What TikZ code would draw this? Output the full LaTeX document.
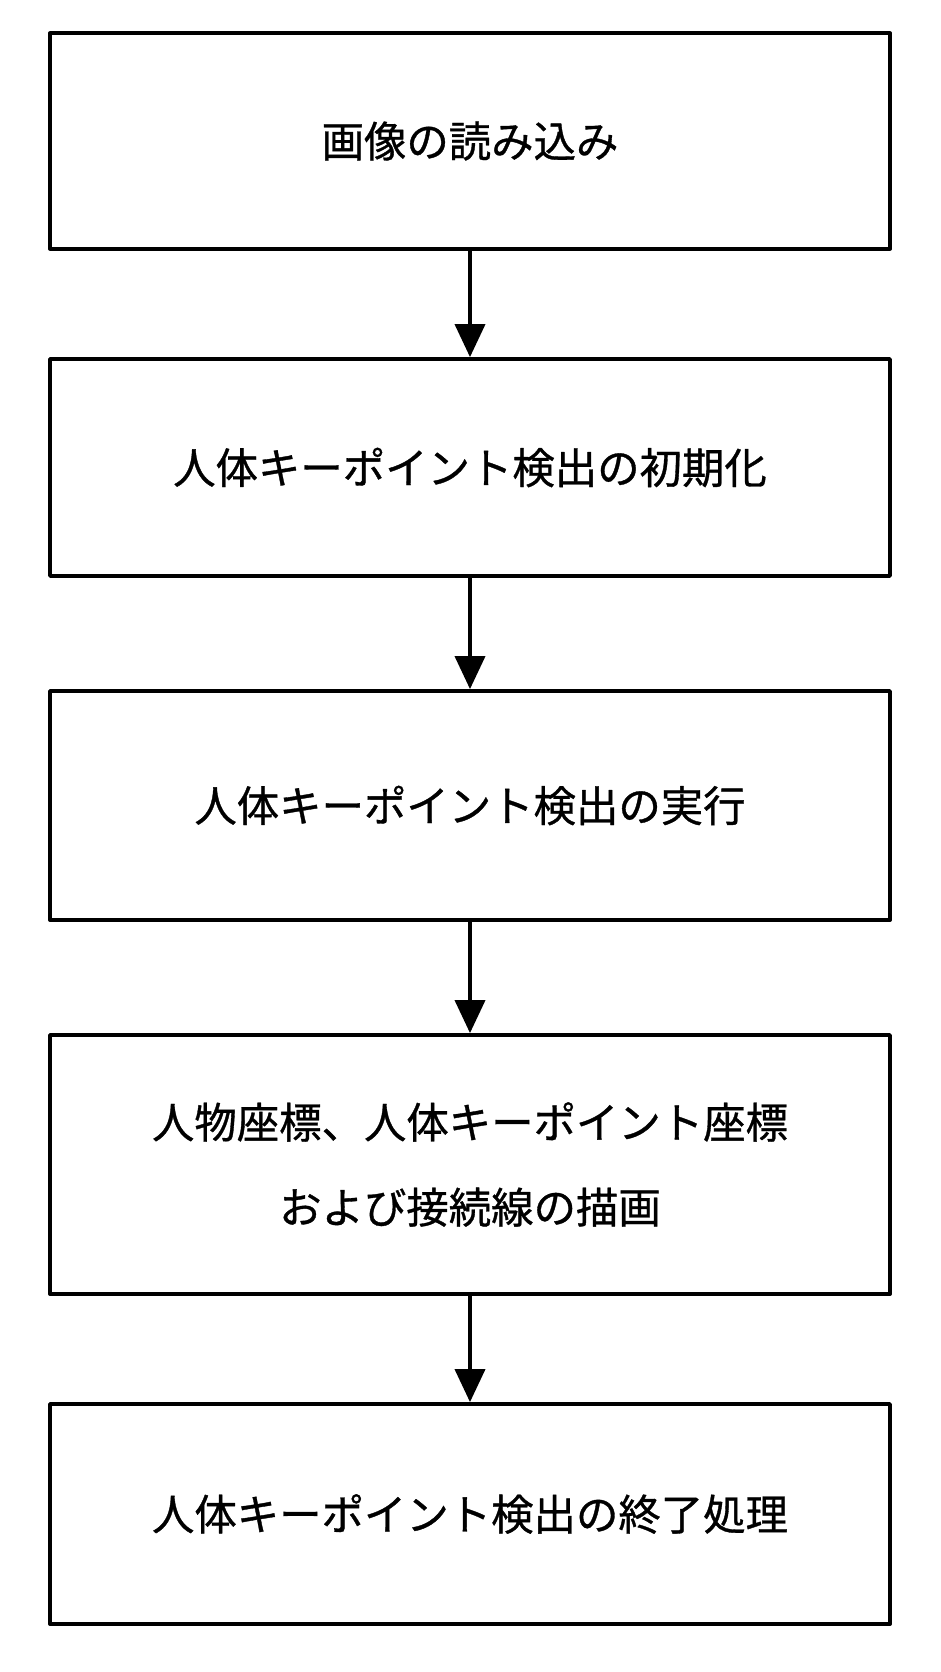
\documentclass[tikz,border=0pt]{standalone}
\usepackage{fontspec}
\setmainfont{Noto Sans CJK JP}[FakeBold=0.8]
\usetikzlibrary{arrows.meta}
\tikzset{
  stepbox/.style={draw=black, line width=1.9pt, line join=round, rectangle, minimum width=420pt, align=center, font=\fontsize{21.2pt}{42.5pt}\selectfont, inner sep=0pt},
  flowarrow/.style={draw=black, line width=1.9pt, -{Triangle[width=15pt,length=16.5pt]}}
}
\begin{document}
\begin{tikzpicture}[x=0.5pt,y=-0.5pt]
\fill[white] (0,0) rectangle (941,1672);
\useasboundingbox (0,0) rectangle (941,1672);
\node[stepbox, minimum height=107.75pt] (b1) at (470,141) {画像の読み込み};
\node[stepbox, minimum height=108.5pt] (b2) at (470,467.5) {人体キーポイント検出の初期化};
\node[stepbox, minimum height=114.5pt] (b3) at (470,805.5) {人体キーポイント検出の実行};
\node[stepbox, minimum height=129.5pt] (b4) at (470,1164.5) {人物座標、人体キーポイント座標\\および接続線の描画};
\node[stepbox, minimum height=110pt] (b5) at (470,1514) {人体キーポイント検出の終了処理};
\draw[flowarrow] (b1.south) -- (b2.north);
\draw[flowarrow] (b2.south) -- (b3.north);
\draw[flowarrow] (b3.south) -- (b4.north);
\draw[flowarrow] (b4.south) -- (b5.north);
\end{tikzpicture}
\end{document}
